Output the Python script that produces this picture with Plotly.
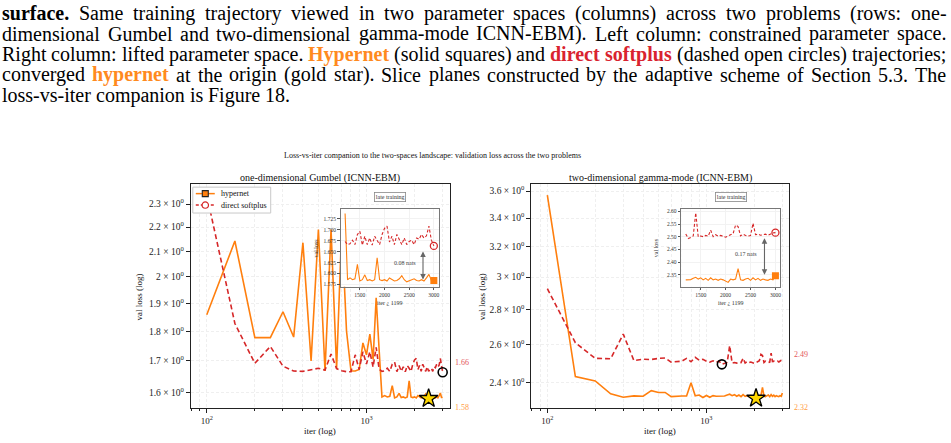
import numpy as np
import plotly.graph_objects as go

# ---------------- data ----------------
iters = [100, 150, 200, 250, 300, 350, 400, 450, 500, 550, 600, 650, 700, 750, 800, 850, 900, 950,
         1000, 1050, 1100, 1150, 1200, 1250, 1300, 1350, 1400, 1450, 1500, 1550, 1600, 1650, 1700,
         1750, 1800, 1850, 1900, 1950, 2000, 2050, 2100, 2150, 2200, 2250, 2300, 2350, 2400, 2450,
         2500, 2550, 2600, 2650, 2700, 2750, 2800, 2850, 2900, 2950, 3000]

gumbel_hypernet = [1.858, 2.142, 1.778, 1.778, 1.869, 1.780, 2.135, 1.700, 2.190, 1.667, 2.190, 1.675,
                   2.200, 1.800, 1.667, 1.667, 1.672, 1.760, 1.720, 1.790, 1.705, 1.920, 1.737,
                   1.586, 1.590, 1.586, 1.588, 1.621, 1.583, 1.586, 1.597, 1.584, 1.586, 1.583, 1.586,
                   1.636, 1.586, 1.584, 1.586, 1.583, 1.590, 1.586, 1.583, 1.584, 1.588, 1.595, 1.586,
                   1.581, 1.583, 1.585, 1.588, 1.584, 1.583, 1.586, 1.583, 1.590, 1.598, 1.584, 1.584]
gumbel_softplus = [2.340, 1.827, 1.692, 1.748, 1.683, 1.667, 1.666, 1.672, 1.676, 1.670, 1.723, 1.675,
                   1.668, 1.665, 1.665, 1.720, 1.672, 1.730, 1.690, 1.730, 1.680, 1.745, 1.673,
                   1.666, 1.668, 1.676, 1.666, 1.689, 1.696, 1.665, 1.685, 1.666, 1.681, 1.665, 1.685,
                   1.676, 1.666, 1.689, 1.703, 1.708, 1.672, 1.685, 1.666, 1.689, 1.678, 1.666, 1.681,
                   1.666, 1.673, 1.676, 1.666, 1.681, 1.678, 1.689, 1.681, 1.686, 1.708, 1.676, 1.663]
gamma_hypernet = [3.570, 2.429, 2.407, 2.342, 2.325, 2.332, 2.330, 2.358, 2.349, 2.349, 2.328, 2.331,
                  2.331, 2.331, 2.398, 2.332, 2.336, 2.324, 2.334, 2.325, 2.333, 2.330, 2.330,
                  2.331, 2.331, 2.336, 2.340, 2.333, 2.338, 2.330, 2.336, 2.328, 2.338, 2.330, 2.333,
                  2.328, 2.333, 2.330, 2.326, 2.320, 2.333, 2.330, 2.333, 2.374, 2.330, 2.328, 2.333,
                  2.336, 2.328, 2.338, 2.330, 2.336, 2.328, 2.333, 2.330, 2.328, 2.333, 2.330, 2.346]
gamma_softplus = [2.927, 2.610, 2.525, 2.523, 2.658, 2.513, 2.520, 2.519, 2.525, 2.527, 2.505, 2.507,
                  2.510, 2.525, 2.507, 2.530, 2.515, 2.520, 2.510, 2.505, 2.512, 2.503, 2.511,
                  2.493, 2.497, 2.503, 2.594, 2.500, 2.503, 2.500, 2.505, 2.502, 2.526, 2.500, 2.508,
                  2.502, 2.505, 2.500, 2.498, 2.503, 2.506, 2.512, 2.546, 2.540, 2.503, 2.510, 2.505,
                  2.502, 2.505, 2.553, 2.508, 2.510, 2.506, 2.508, 2.510, 2.506, 2.512, 2.515, 2.516]

inset_start_iter = 1200
gap_arrow_iter = 2780

panel_titles = ["one-dimensional Gumbel (ICNN-EBM)", "two-dimensional gamma-mode (ICNN-EBM)"]
series_names = ["hypernet", "direct softplus"]
suptitle = "Loss-vs-iter companion to the two-spaces landscape: validation loss across the two problems"

x_major = [100, 1000]
x_major_text = ["10<sup>2</sup>", "10<sup>3</sup>"]
x_minor = [80, 90, 200, 300, 400, 500, 600, 700, 800, 900, 2000, 3000]
gumbel_yticks = [1.6, 1.7, 1.8, 1.9, 2.0, 2.1, 2.2, 2.3]
gumbel_yticktext = ["1.6 × 10<sup>0</sup>", "1.7 × 10<sup>0</sup>", "1.8 × 10<sup>0</sup>",
                    "1.9 × 10<sup>0</sup>", "2 × 10<sup>0</sup>", "2.1 × 10<sup>0</sup>",
                    "2.2 × 10<sup>0</sup>", "2.3 × 10<sup>0</sup>"]
gamma_yticks = [2.4, 2.6, 2.8, 3.0, 3.2, 3.4, 3.6]
gamma_yticktext = ["2.4 × 10<sup>0</sup>", "2.6 × 10<sup>0</sup>", "2.8 × 10<sup>0</sup>",
                   "3 × 10<sup>0</sup>", "3.2 × 10<sup>0</sup>", "3.4 × 10<sup>0</sup>",
                   "3.6 × 10<sup>0</sup>"]
inset_xticks = [1500, 2000, 2500, 3000]
gumbel_inset_yticks = [1.575, 1.600, 1.625, 1.650, 1.675, 1.700, 1.725]
gamma_inset_yticks = [2.35, 2.40, 2.45, 2.50, 2.55, 2.60]

caption_lines = [
    [("surface.", "b", "#000000"), ("Same", "r", None), ("training", "r", None), ("trajectory", "r", None),
     ("viewed", "r", None), ("in", "r", None), ("two", "r", None), ("parameter", "r", None),
     ("spaces", "r", None), ("(columns)", "r", None), ("across", "r", None), ("two", "r", None),
     ("problems", "r", None), ("(rows:", "r", None), ("one-", "r", None)],
    [(w, "r", None) for w in "dimensional Gumbel and two-dimensional gamma-mode ICNN-EBM). Left column: constrained parameter space.".split()],
    [(w, "r", None) for w in "Right column: lifted parameter space.".split()]
    + [("Hypernet", "b", "#ff8a1e")]
    + [(w, "r", None) for w in "(solid squares) and".split()]
    + [("direct", "b", "#d9232f"), ("softplus", "b", "#d9232f")]
    + [(w, "r", None) for w in "(dashed open circles) trajectories;".split()],
    [("converged", "r", None), ("hypernet", "b", "#ff8a1e")]
    + [(w, "r", None) for w in "at the origin (gold star). Slice planes constructed by the adaptive scheme of Section 5.3. The".split()],
    [(w, "r", None) for w in "loss-vs-iter companion is Figure 18.".split()],
]

# ---------------- helpers ----------------
W, H = 951, 443
def px(x): return x / W
def py(y): return 1 - y / H

SERIF = "Liberation Serif"
ORANGE = "#ff7f0e"
RED = "#d62728"

REG = {' ': 250, '(': 333, ')': 333, ',': 250, '-': 333, '.': 250, ':': 278, ';': 278,
       'A': 722, 'B': 667, 'C': 667, 'D': 722, 'E': 611, 'F': 556, 'G': 722, 'H': 722, 'I': 333, 'J': 389,
       'K': 722, 'L': 611, 'M': 889, 'N': 722, 'O': 722, 'P': 556, 'Q': 722, 'R': 667, 'S': 556, 'T': 611,
       'U': 722, 'V': 722, 'W': 944, 'X': 722, 'Y': 722, 'Z': 611,
       'a': 444, 'b': 500, 'c': 444, 'd': 500, 'e': 444, 'f': 333, 'g': 500, 'h': 500, 'i': 278, 'j': 278,
       'k': 500, 'l': 278, 'm': 778, 'n': 500, 'o': 500, 'p': 500, 'q': 500, 'r': 333, 's': 389, 't': 278,
       'u': 500, 'v': 500, 'w': 722, 'x': 500, 'y': 500, 'z': 444}
BOLD = {' ': 250, '(': 333, ')': 333, '-': 333, '.': 250,
        'H': 778, 'a': 500, 'b': 556, 'c': 444, 'd': 556, 'e': 444, 'f': 333, 'g': 500, 'h': 556, 'i': 278,
        'k': 556, 'l': 278, 'm': 833, 'n': 556, 'o': 500, 'p': 556, 'r': 444, 's': 389, 't': 333, 'u': 556,
        'v': 500, 'w': 722, 'y': 500}

def word_width(word, style, size):
    tab = BOLD if style == "b" else REG
    return sum(tab.get(c, 500) for c in word) / 1000.0 * size

fig = go.Figure()

# ---------------- main panels ----------------
panels = [
    dict(x="x", y="y", hyp=gumbel_hypernet, sp=gumbel_softplus),
    dict(x="x2", y="y2", hyp=gamma_hypernet, sp=gamma_softplus),
]
for p in panels:
    fig.add_trace(go.Scatter(x=iters, y=p["hyp"], mode="lines", line=dict(color=ORANGE, width=1.6),
                             xaxis=p["x"], yaxis=p["y"], showlegend=False, hoverinfo="skip"))
    fig.add_trace(go.Scatter(x=iters, y=p["sp"], mode="lines", line=dict(color=RED, width=1.6, dash="5px,3px"),
                             xaxis=p["x"], yaxis=p["y"], showlegend=False, hoverinfo="skip"))
    i_sp = int(np.argmin(p["sp"]))
    i_hy = int(np.argmin(p["hyp"]))
    fig.add_trace(go.Scatter(x=[iters[i_sp]], y=[p["sp"][i_sp]], mode="markers",
                             marker=dict(symbol="circle-open", size=9, color="black", line=dict(width=1.6)),
                             xaxis=p["x"], yaxis=p["y"], showlegend=False, hoverinfo="skip"))
    fig.add_trace(go.Scatter(x=[iters[i_hy]], y=[p["hyp"][i_hy]], mode="markers",
                             marker=dict(symbol="star", size=14, color="#ffd700", line=dict(width=1.3, color="black")),
                             xaxis=p["x"], yaxis=p["y"], showlegend=False, hoverinfo="skip"))

# ---------------- insets ----------------
k0 = iters.index(inset_start_iter)
insets = [
    dict(x="x3", y="y3", hyp=gumbel_hypernet, sp=gumbel_softplus),
    dict(x="x4", y="y4", hyp=gamma_hypernet, sp=gamma_softplus),
]
for p in insets:
    fig.add_trace(go.Scatter(x=iters[k0:], y=p["hyp"][k0:], mode="lines", line=dict(color=ORANGE, width=1.1),
                             xaxis=p["x"], yaxis=p["y"], showlegend=False, hoverinfo="skip"))
    fig.add_trace(go.Scatter(x=iters[k0:], y=p["sp"][k0:], mode="lines", line=dict(color=RED, width=1.1, dash="3px,2px"),
                             xaxis=p["x"], yaxis=p["y"], showlegend=False, hoverinfo="skip"))
    fig.add_trace(go.Scatter(x=[iters[-1]], y=[p["hyp"][-1]], mode="markers",
                             marker=dict(symbol="square", size=7, color=ORANGE),
                             xaxis=p["x"], yaxis=p["y"], showlegend=False, hoverinfo="skip"))
    fig.add_trace(go.Scatter(x=[iters[-1]], y=[p["sp"][-1]], mode="markers",
                             marker=dict(symbol="circle-open", size=7, color=RED, line=dict(width=1.3)),
                             xaxis=p["x"], yaxis=p["y"], showlegend=False, hoverinfo="skip"))

# ---------------- axes ----------------
GRID = "#efefef"
GDASH = "3px,2px"
tickfont = dict(family=SERIF, size=9.5, color="#222")
main_x = dict(type="log", range=[1.90, 3.52], tickmode="array", tickvals=x_major, ticktext=x_major_text,
              ticks="outside", ticklen=4, tickcolor="#222", tickfont=dict(family=SERIF, size=9, color="#222"),
              showline=True, mirror=True, linecolor="#222", linewidth=1.3,
              showgrid=True, gridcolor=GRID, griddash=GDASH, gridwidth=0.8, zeroline=False,
              minor=dict(tickmode="array", tickvals=x_minor, ticks="outside", ticklen=2, tickcolor="#222",
                         showgrid=True, gridcolor=GRID, griddash=GDASH, gridwidth=0.8))
main_y = dict(type="log", ticks="outside", ticklen=4, tickmode="array",
              tickcolor="#222", tickfont=tickfont, showline=True, mirror=True, linecolor="#222", linewidth=1.3,
              showgrid=True, gridcolor=GRID, griddash=GDASH, gridwidth=0.8, zeroline=False)
fig.update_layout(
    xaxis=dict(main_x, domain=[px(191), px(450)], anchor="y"),
    yaxis=dict(main_y, range=[np.log10(1.552), np.log10(2.39)], domain=[py(409), py(184)], anchor="x",
               tickvals=gumbel_yticks, ticktext=gumbel_yticktext),
    xaxis2=dict(main_x, domain=[px(532), px(790)], anchor="y2"),
    yaxis2=dict(main_y, range=[np.log10(2.272), np.log10(3.653)], domain=[py(409), py(184)], anchor="x2",
                tickvals=gamma_yticks, ticktext=gamma_yticktext),
)
inset_common_x = dict(range=[1110, 3095], tickmode="array", tickvals=inset_xticks, ticks="outside", ticklen=2.5,
                      tickcolor="#555", tickfont=dict(family=SERIF, size=5.5, color="#333"),
                      showline=True, mirror=True, linecolor="#777", linewidth=1.2,
                      showgrid=True, gridcolor="#f2f2f2", zeroline=False)
inset_common_y = dict(ticks="outside", ticklen=2.5, tickcolor="#555", tickfont=dict(family=SERIF, size=5.5, color="#333"),
                      showline=True, mirror=True, linecolor="#777", linewidth=1.2,
                      showgrid=True, gridcolor="#f2f2f2", zeroline=False, tickmode="array")
fig.update_layout(
    xaxis3=dict(inset_common_x, domain=[px(341), px(439)], anchor="y3"),
    yaxis3=dict(inset_common_y, domain=[py(287), py(209)], anchor="x3", range=[1.570, 1.747],
                tickvals=gumbel_inset_yticks, ticktext=[f"{v:.3f}" for v in gumbel_inset_yticks]),
    xaxis4=dict(inset_common_x, domain=[px(682), px(781)], anchor="y4"),
    yaxis4=dict(inset_common_y, domain=[py(287), py(209)], anchor="x4", range=[2.303, 2.609],
                tickvals=gamma_inset_yticks, ticktext=[f"{v:.2f}" for v in gamma_inset_yticks]),
)

# ---------------- annotations ----------------
ann = []
shapes = []
# caption
cap_size = 20
cap_centers = [12.5, 33, 53.5, 74, 94.5]
left_edge, right_edge = 1, 946
for li, line in enumerate(caption_lines):
    widths = [word_width(w, s, cap_size) for (w, s, c) in line]
    if li < len(caption_lines) - 1:
        gap = (right_edge - left_edge - sum(widths)) / (len(line) - 1)
    else:
        gap = 0.25 * cap_size
    cur = left_edge
    for (w, s, c), wd in zip(line, widths):
        txt = f"<b>{w}</b>" if s == "b" else w
        ann.append(dict(text=txt, xref="paper", yref="paper", x=px(cur), y=py(cap_centers[li]),
                        xanchor="left", yanchor="middle", showarrow=False, borderpad=0,
                        font=dict(family=SERIF, size=cap_size, color=c or "#000000")))
        cur += wd + gap

# figure title
ann.append(dict(text=suptitle, xref="paper", yref="paper", x=px(433), y=py(155), showarrow=False,
                xanchor="center", yanchor="middle", font=dict(family=SERIF, size=8, color="#111")))
# panel titles, axis titles
for p, title, xa, ylab_x in [(panels[0], panel_titles[0], "x", 139), (panels[1], panel_titles[1], "x2", 482)]:
    ann.append(dict(text=title, xref=xa + " domain", yref="paper", x=0.5, y=py(178), showarrow=False,
                    xanchor="center", yanchor="middle", font=dict(family=SERIF, size=10, color="#111")))
    ann.append(dict(text="iter (log)", xref=xa + " domain", yref="paper", x=0.5, y=py(432), showarrow=False,
                    xanchor="center", yanchor="middle", font=dict(family=SERIF, size=9, color="#111")))
    ann.append(dict(text="val loss (log)", xref="paper", yref="paper", x=px(ylab_x), y=py(297), showarrow=False,
                    textangle=-90, xanchor="center", yanchor="middle", font=dict(family=SERIF, size=9, color="#111")))
    ya = p["y"]
    best_sp, best_hy = min(p["sp"]), min(p["hyp"])
    ann.append(dict(text=f"{best_sp:.2f}", xref=xa + " domain", yref=ya, x=1, y=np.log10(best_sp),
                    xanchor="left", yanchor="middle", xshift=3, yshift=10, showarrow=False,
                    font=dict(family=SERIF, size=8, color="#e4585c")))
    ann.append(dict(text=f"{best_hy:.2f}", xref=xa + " domain", yref=ya, x=1, y=np.log10(best_hy),
                    xanchor="left", yanchor="middle", xshift=3, yshift=-9, showarrow=False,
                    font=dict(family=SERIF, size=8, color="#ff9d45")))

# legend (drawn in the upper-left corner of the left panel)
lg_x0, lg_y0, lg_x1, lg_y1 = 193, 187, 271, 213
shapes.append(dict(type="rect", xref="paper", yref="paper", x0=px(lg_x0), x1=px(lg_x1), y0=py(lg_y1), y1=py(lg_y0),
                   fillcolor="white", line=dict(color="#c8c8c8", width=1), layer="above"))
legend_rows = [(193.5, ORANGE, "solid", "square"), (205, RED, "3px,2px", "circle")]
for (yy, col, dash, sym), name in zip(legend_rows, series_names):
    shapes.append(dict(type="line", xref="paper", yref="paper", x0=px(196), x1=px(215), y0=py(yy), y1=py(yy),
                       line=dict(color=col, width=1.5, dash=dash), layer="above"))
    if sym == "square":
        shapes.append(dict(type="rect", xref="paper", yref="paper", x0=px(202.5), x1=px(208.5),
                           y0=py(yy + 3), y1=py(yy - 3), fillcolor=ORANGE, line=dict(color="#222", width=1.1),
                           layer="above"))
    else:
        shapes.append(dict(type="circle", xref="paper", yref="paper", x0=px(202.3), x1=px(208.7),
                           y0=py(yy + 3.2), y1=py(yy - 3.2), fillcolor="white", line=dict(color=col, width=1.2),
                           layer="above"))
    ann.append(dict(text=name, xref="paper", yref="paper", x=px(219), y=py(yy), xanchor="left", yanchor="middle",
                    showarrow=False, font=dict(family=SERIF, size=8, color="#111")))

# inset decorations
for p in insets:
    xa, ya = p["x"], p["y"]
    ann.append(dict(text="late training", xref=xa + " domain", yref="paper", x=0.5, y=py(197), showarrow=False,
                    xanchor="center", yanchor="middle", bordercolor="#888", borderwidth=0.8, borderpad=1,
                    bgcolor="white", font=dict(family=SERIF, size=6, color="#333")))
    ann.append(dict(text="iter ¿ 1199", xref=xa + " domain", yref="paper", x=0.5, y=py(303), showarrow=False,
                    xanchor="center", yanchor="middle", font=dict(family=SERIF, size=6, color="#333")))
    ann.append(dict(text="val loss", xref=xa + " domain", yref=ya + " domain", x=0, y=0.5, xshift=-25,
                    showarrow=False, textangle=-90, xanchor="center", yanchor="middle",
                    font=dict(family=SERIF, size=6, color="#333")))
    top_v, bot_v = p["sp"][-1], p["hyp"][-1]
    ann.append(dict(text="", x=gap_arrow_iter, y=bot_v, ax=gap_arrow_iter, ay=top_v, xref=xa, yref=ya,
                    axref=xa, ayref=ya, showarrow=True, arrowhead=2, arrowside="end+start", arrowsize=1,
                    arrowwidth=1.1, arrowcolor="#666", standoff=1, startstandoff=4))
    ann.append(dict(text=f"{top_v - bot_v:.2f} nats", x=gap_arrow_iter, y=(top_v + bot_v) / 2, xref=xa, yref=ya,
                    showarrow=False, xanchor="right", yanchor="middle", xshift=-5,
                    font=dict(family=SERIF, size=6, color="#444")))

fig.update_layout(
    width=W, height=H, margin=dict(l=0, r=0, t=0, b=0),
    paper_bgcolor="white", plot_bgcolor="white",
    annotations=ann, shapes=shapes,
    showlegend=False,
)

fig.write_html("out.html")
